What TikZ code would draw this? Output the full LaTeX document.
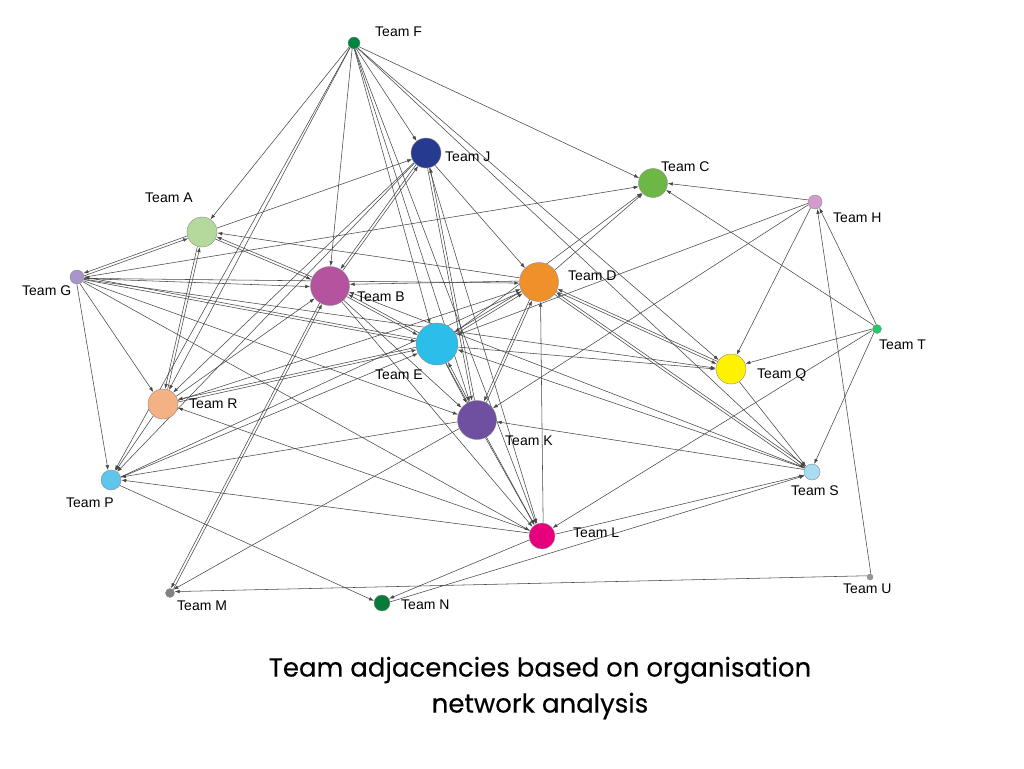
\documentclass[tikz,border=0pt]{standalone}
\usepackage{fontspec}
\setmainfont{Liberation Sans}
\newfontfamily\capfont[FakeBold=0.35]{Poppins}
\usetikzlibrary{arrows.meta}
\pgfdeclarelayer{back}
\pgfdeclarelayer{bg}
\pgfsetlayers{back,bg,main}
\definecolor{cF}{RGB}{0,133,62}
\definecolor{cJ}{RGB}{38,58,143}
\definecolor{cC}{RGB}{109,184,68}
\definecolor{cH}{RGB}{211,155,203}
\definecolor{cA}{RGB}{181,217,156}
\definecolor{cG}{RGB}{168,149,201}
\definecolor{cB}{RGB}{181,83,158}
\definecolor{cD}{RGB}{240,144,42}
\definecolor{cE}{RGB}{43,190,235}
\definecolor{cT}{RGB}{34,204,102}
\definecolor{cQ}{RGB}{255,242,0}
\definecolor{cR}{RGB}{244,177,131}
\definecolor{cK}{RGB}{110,79,160}
\definecolor{cS}{RGB}{168,220,242}
\definecolor{cP}{RGB}{94,197,236}
\definecolor{cL}{RGB}{230,0,126}
\definecolor{cM}{RGB}{130,130,130}
\definecolor{cN}{RGB}{10,122,58}
\definecolor{cU}{RGB}{150,150,150}
\begin{document}
\begin{tikzpicture}[x=1pt,y=-1pt,
  team/.style={circle, draw=black!45, line width=0.4pt, inner sep=0pt},
  lbl/.style={anchor=west, inner sep=0pt, font=\fontsize{14}{14}\selectfont},
  edge/.style={draw=black!72, line width=0.55pt, -{Latex[length=5pt,width=3.6pt]}}]
\useasboundingbox (0,0) rectangle (1024,768);
\begin{pgfonlayer}{back}
\fill[white] (0,0) rectangle (1024,768);
\end{pgfonlayer}
% nodes
\node[team, fill=cF, minimum size=12pt] (F) at (354,43) {};
\node[team, fill=cJ, minimum size=30pt] (J) at (426,153) {};
\node[team, fill=cC, minimum size=29pt] (C) at (653,183) {};
\node[team, fill=cH, minimum size=14pt] (H) at (815,202) {};
\node[team, fill=cA, minimum size=30pt] (A) at (202,232) {};
\node[team, fill=cG, minimum size=14pt] (G) at (77,277) {};
\node[team, fill=cB, minimum size=39pt] (B) at (330,286) {};
\node[team, fill=cD, minimum size=39pt] (D) at (539,282) {};
\node[team, fill=cE, minimum size=42pt] (E) at (437,344) {};
\node[team, fill=cT, minimum size=9pt] (T) at (877,329) {};
\node[team, fill=cQ, minimum size=30pt] (Q) at (731,369) {};
\node[team, fill=cR, minimum size=30pt] (R) at (163,404) {};
\node[team, fill=cK, minimum size=39pt] (K) at (477,420) {};
\node[team, fill=cS, minimum size=16pt] (S) at (812,472) {};
\node[team, fill=cP, minimum size=20pt] (P) at (111,480) {};
\node[team, fill=cL, minimum size=26pt] (L) at (542,536) {};
\node[team, fill=cM, minimum size=9pt] (M) at (170,593) {};
\node[team, fill=cN, minimum size=16pt] (N) at (382,603) {};
\node[team, fill=cU, minimum size=6pt] (U) at (870,577) {};
% labels
\node[lbl] (lF) at (375,32) {Team F};
\node[lbl] (lJ) at (445,157) {Team J};
\node[lbl] (lC) at (661,167) {Team C};
\node[lbl] (lH) at (833,218) {Team H};
\node[lbl] (lA) at (145,198) {Team A};
\node[lbl] (lG) at (22,291) {Team G};
\node[lbl] (lB) at (357,297) {Team B};
\node[lbl] (lD) at (568,276) {Team D};
\node[lbl] (lE) at (375,375) {Team E};
\node[lbl] (lT) at (879,345) {Team T};
\node[lbl] (lQ) at (757,375) {Team Q};
\node[lbl] (lR) at (189,404) {Team R};
\node[lbl] (lK) at (505,441) {Team K};
\node[lbl] (lS) at (791,491) {Team S};
\node[lbl] (lP) at (66,503) {Team P};
\node[lbl] (lL) at (573,533) {Team L};
\node[lbl] (lM) at (177,606) {Team M};
\node[lbl] (lN) at (401,605) {Team N};
\node[lbl] (lU) at (843,589) {Team U};
% caption
\node[font=\capfont\fontsize{26}{36}\selectfont, align=center] (cap) at (540,688)
  {Team adjacencies based on organisation\\network analysis};
% edges (each drawn slightly to the right of its direction, so that pairs run side by side)
\begin{pgfonlayer}{bg}
\foreach \a/\b in {F/A,F/R,F/P,F/B,F/J,F/C,F/Q,F/S,F/E,F/K,F/L,
  A/G,G/A,A/J,A/B,B/A,D/A,R/A,A/R,
  G/C,G/B,G/D,G/E,E/G,G/K,G/L,G/R,G/P,G/Q,
  B/J,J/B,J/K,K/J,J/D,J/L,J/R,J/P,
  D/B,B/E,E/B,B/K,B/L,B/M,M/B,R/B,S/B,
  D/C,E/C,H/C,T/C,
  D/E,E/D,D/K,K/D,L/D,D/Q,Q/D,D/S,S/D,R/D,P/D,
  E/K,K/E,E/Q,E/L,E/R,R/E,S/E,P/E,H/E,
  K/L,K/P,K/M,S/K,H/K,
  H/Q,T/Q,T/H,U/H,T/S,Q/S,T/L,
  U/M,L/P,R/P,P/N,L/N,N/S,L/S,L/R}
{
  \path (\a); \pgfgetlastxy{\ax}{\ay}
  \path (\b); \pgfgetlastxy{\bx}{\by}
  \pgfmathsetmacro\ang{atan2(\by-\ay,\bx-\ax)-90}
  \draw[edge, transform canvas={shift={(\ang:1.3pt)}}] (\a) -- (\b);
}
\end{pgfonlayer}
\end{tikzpicture}
\end{document}
